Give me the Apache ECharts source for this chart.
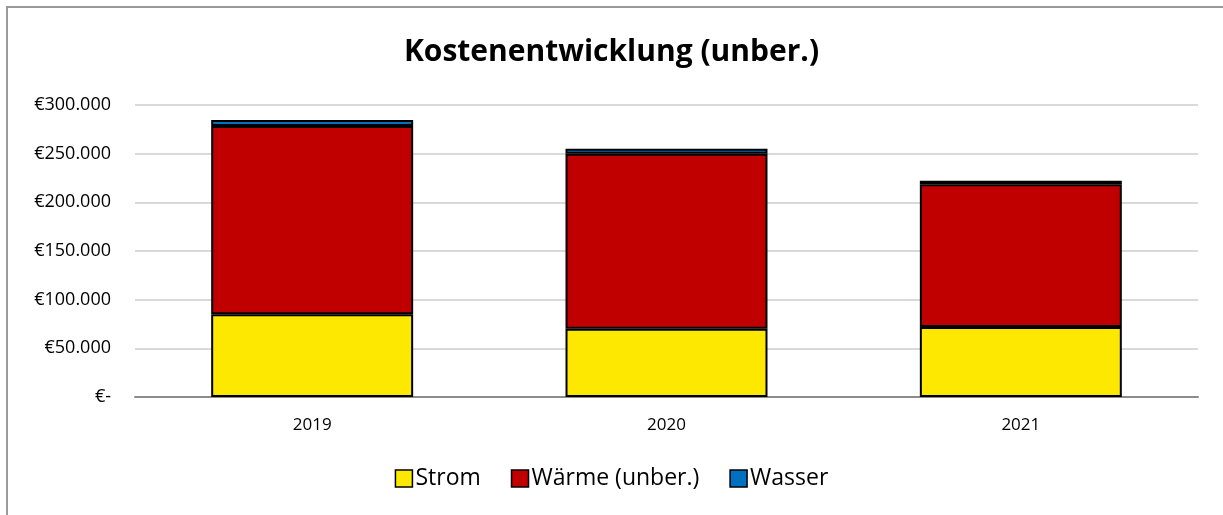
<!DOCTYPE html>
<html>
<head>
<meta charset="utf-8">
<script src="https://cdn.jsdelivr.net/npm/echarts@6/dist/echarts.min.js"></script>
<style>
  html, body { margin: 0; padding: 0; background: #fff; }
  #chart { width: 1223px; height: 515px; }
</style>
</head>
<body>
<div id="chart"></div>
<script>
// Werte (geschätzt)
const jahre = ['2019', '2020', '2021'];
const strom = [85000, 70000, 72000];
const waerme = [193500, 180000, 146500];
const wasser = [6200, 5000, 3800];

const serienNamen = ['Strom', 'Wärme (unber.)', 'Wasser'];
const farben = ['#FCE800', '#C00000', '#0070C0'];

function euroFormat(v) {
    if (v === 0) return '€-';
    return '€' + v.toLocaleString('de-DE');
}

const ch = echarts.init(document.getElementById('chart'), null, { renderer: 'canvas' });

const werte = [strom, waerme, wasser];

const option = {
    animation: false,
    backgroundColor: '#fff',
    textStyle: { fontFamily: 'Open Sans' },
    title: {
        text: 'Kostenentwicklung (unber.)',
        left: 'center',
        top: 32,
        textStyle: { fontSize: 30, fontWeight: 'bold', color: '#000', fontFamily: 'Open Sans' }
    },
    graphic: [{
        type: 'rect',
        shape: { x: 7, y: 7, width: 1240, height: 540 },
        style: { fill: 'none', stroke: '#9a9a9a', lineWidth: 2 },
        silent: true
    }],
    legend: {
        bottom: 20,
        left: 'center',
        icon: 'rect',
        itemWidth: 17,
        itemHeight: 17,
        itemGap: 30,
        textStyle: { fontSize: 23, color: '#000', padding: [0, 0, 0, -2] },
        data: serienNamen.map((n, i) => ({ name: n, itemStyle: { color: farben[i], borderColor: '#000', borderWidth: 1.5 } }))
    },
    grid: { left: 135, right: 25, top: 105, bottom: 118 },
    xAxis: {
        type: 'category',
        data: jahre,
        axisLine: { lineStyle: { color: '#8c8c8c', width: 2 } },
        axisTick: { show: false },
        axisLabel: { fontSize: 17, color: '#000', margin: 20 }
    },
    yAxis: {
        type: 'value',
        min: 0,
        max: 300000,
        interval: 50000,
        axisLine: { show: false },
        axisTick: { show: false },
        splitLine: { lineStyle: { color: '#d9d9d9', width: 2 } },
        axisLabel: { fontSize: 18, color: '#000', margin: 24, formatter: euroFormat }
    },
    series: serienNamen.map((n, i) => ({
        name: n,
        type: 'bar',
        stack: 'kosten',
        barWidth: '57%',
        data: werte[i],
        itemStyle: { color: farben[i], borderColor: '#000', borderWidth: 2 }
    }))
};

ch.setOption(option);
</script>
</body>
</html>
